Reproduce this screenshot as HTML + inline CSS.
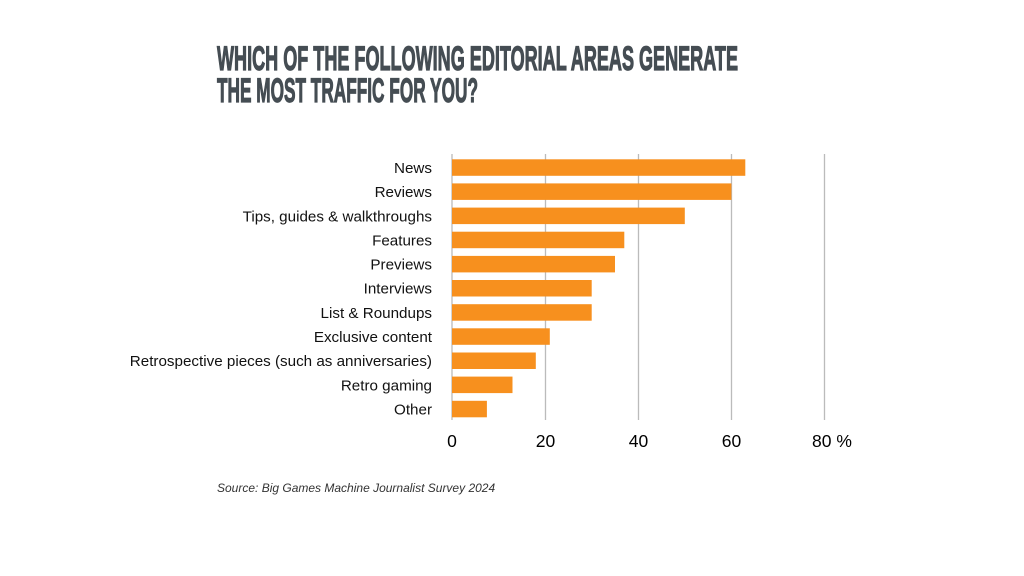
<!DOCTYPE html>
<html><head><meta charset="utf-8"><style>
body{margin:0;background:#fff;}
svg{display:block;}
</style></head><body>
<svg width="1024" height="576" viewBox="0 0 1024 576" xmlns="http://www.w3.org/2000/svg">
<g font-family="'Liberation Sans Narrow','Liberation Sans',sans-serif" font-weight="bold" fill="#454d53" stroke="#454d53" stroke-width="1.2" font-size="34">
<text x="217" y="70" textLength="521" lengthAdjust="spacingAndGlyphs">WHICH OF THE FOLLOWING EDITORIAL AREAS GENERATE</text>
<text x="217" y="102" textLength="261" lengthAdjust="spacingAndGlyphs">THE MOST TRAFFIC FOR YOU?</text>
</g>
<g stroke="#bbbbbb" stroke-width="1.3">
<line x1="452" y1="154" x2="452" y2="420"/>
<line x1="545.5" y1="154" x2="545.5" y2="420"/>
<line x1="638.5" y1="154" x2="638.5" y2="420"/>
<line x1="731.5" y1="154" x2="731.5" y2="420"/>
<line x1="824.5" y1="154" x2="824.5" y2="420"/>
</g>
<g fill="#f7901e">
<rect x="452" y="159.3" width="293.3" height="16.5"/>
<rect x="452" y="183.4" width="279.4" height="16.5"/>
<rect x="452" y="207.6" width="232.8" height="16.5"/>
<rect x="452" y="231.7" width="172.3" height="16.5"/>
<rect x="452" y="255.9" width="163" height="16.5"/>
<rect x="452" y="280" width="139.7" height="16.5"/>
<rect x="452" y="304.2" width="139.7" height="16.5"/>
<rect x="452" y="328.3" width="97.8" height="16.5"/>
<rect x="452" y="352.5" width="83.8" height="16.5"/>
<rect x="452" y="376.6" width="60.5" height="16.5"/>
<rect x="452" y="400.8" width="34.9" height="16.5"/>
</g>
<g font-family="'Liberation Sans',sans-serif" font-size="15.2" fill="#111" text-anchor="end">
<text x="432" y="173">News</text>
<text x="432" y="197.1">Reviews</text>
<text x="432" y="221.3">Tips, guides &amp; walkthroughs</text>
<text x="432" y="245.4">Features</text>
<text x="432" y="269.6">Previews</text>
<text x="432" y="293.7">Interviews</text>
<text x="432" y="317.9">List &amp; Roundups</text>
<text x="432" y="342">Exclusive content</text>
<text x="432" y="366.2">Retrospective pieces (such as anniversaries)</text>
<text x="432" y="390.3">Retro gaming</text>
<text x="432" y="414.5">Other</text>
</g>
<g font-family="'Liberation Sans',sans-serif" font-size="17.5" fill="#000" text-anchor="middle">
<text x="452" y="447">0</text>
<text x="545.5" y="447">20</text>
<text x="638.5" y="447">40</text>
<text x="731.5" y="447">60</text>
<text x="832" y="447">80 %</text>
</g>
<text x="217" y="492" font-family="'Liberation Sans',sans-serif" font-size="12" font-style="italic" fill="#333">Source: Big Games Machine Journalist Survey 2024</text>
</svg>
</body></html>
